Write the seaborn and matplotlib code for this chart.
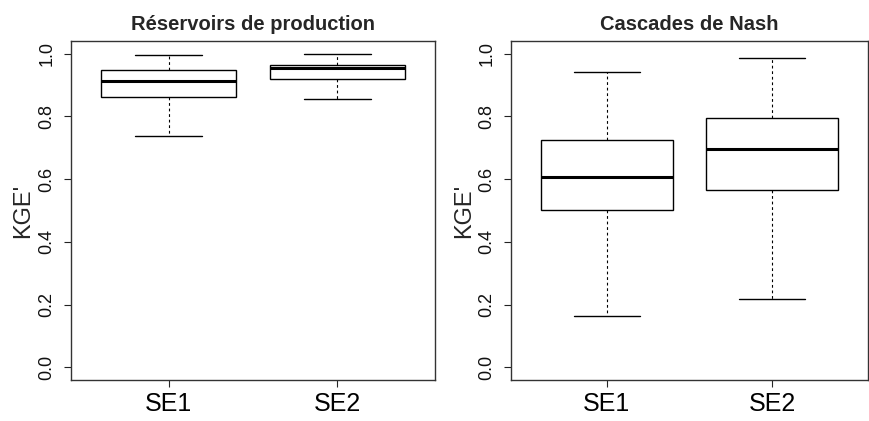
import numpy as np
import pandas as pd
import seaborn as sns
import matplotlib.pyplot as plt

# five-number summaries: min, Q1, median, Q3, max
groups = ["SE1", "SE2"]
reservoirs_se1 = [0.736, 0.861, 0.913, 0.949, 0.997]
reservoirs_se2 = [0.855, 0.919, 0.953, 0.964, 0.998]
nash_se1 = [0.165, 0.501, 0.607, 0.724, 0.942]
nash_se2 = [0.219, 0.565, 0.696, 0.796, 0.987]
titles = ["Réservoirs de production", "Cascades de Nash"]
yticks = [0.0, 0.2, 0.4, 0.6, 0.8, 1.0]

sns.set_style("ticks")
plt.rcParams['font.family'] = ['Liberation Sans', 'DejaVu Sans']

def make_frame(se1, se2):
    return pd.DataFrame({"groupe": [groups[0]] * len(se1) + [groups[1]] * len(se2),
                         "KGE": se1 + se2})

frames = [make_frame(reservoirs_se1, reservoirs_se2), make_frame(nash_se1, nash_se2)]

fig = plt.figure(figsize=(8.69, 4.21), dpi=100)
positions = [[0.0817, 0.0974, 0.4189, 0.8052], [0.588, 0.0974, 0.4108, 0.8052]]

for pos, df, title in zip(positions, frames, titles):
    ax = fig.add_axes(pos)
    sns.boxplot(data=df, x="groupe", y="KGE", ax=ax, color="white", linecolor="black",
                linewidth=1, width=0.8, whis=(0, 100), saturation=1,
                whiskerprops={"linestyle": (0, (2.5, 2.5)), "linewidth": 0.8},
                medianprops={"linewidth": 2.2})
    ax.set_xlim(-0.58, 1.58)
    ax.set_ylim(-0.04, 1.04)
    ax.set_yticks(yticks)
    ax.set_yticklabels(["%.1f" % v for v in yticks], rotation=90, va="center")
    ax.tick_params(axis="y", labelsize=13, length=5, width=0.8, pad=6, colors="#222222")
    ax.tick_params(axis="x", labelsize=18, length=5, width=0.8, pad=4)
    for lab in ax.get_xticklabels():
        lab.set_color("black")
    for lab in ax.get_yticklabels():
        lab.set_color("#111111")
    for sp in ax.spines.values():
        sp.set_visible(True)
        sp.set_color("#333333")
        sp.set_linewidth(1)
    ax.set_xlabel("")
    ax.set_ylabel("KGE'", fontsize=17)
    ax.yaxis.set_label_coords(-0.10, 0.5)
    ax.set_title(title, fontsize=14.5, fontweight="bold", pad=8)

fig.savefig("out.png", dpi=100)
